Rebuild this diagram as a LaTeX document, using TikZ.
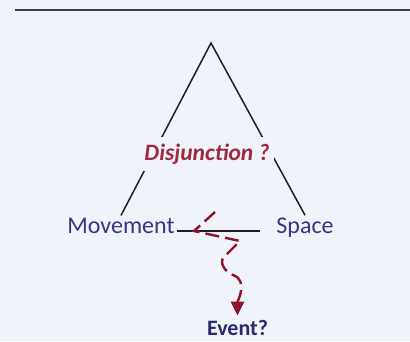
\documentclass[tikz,border=0pt]{standalone}
\usepackage{fontspec}
\setmainfont{Carlito}
\usepackage{tikz}
\usetikzlibrary{arrows.meta,positioning,calc}
\definecolor{pageBg}{RGB}{240,243,250}
\definecolor{termBlue}{RGB}{52,56,132}
\definecolor{eventBlue}{RGB}{38,44,108}
\definecolor{disjRed}{RGB}{158,42,66}
\definecolor{wavyRed}{RGB}{140,20,42}
\definecolor{legLine}{RGB}{30,30,34}
\tikzset{
  termnode/.style={inner sep=2pt, anchor=base, text=termBlue, font=\fontsize{24}{28}\selectfont},
  disjlabel/.style={inner xsep=4pt, inner ysep=7pt, anchor=base, fill=pageBg, text=disjRed,
    font=\fontsize{23.5}{27}\selectfont\bfseries\itshape},
  eventnode/.style={inner sep=2pt, anchor=base, text=eventBlue, font=\fontsize{22}{26}\selectfont\bfseries},
  legline/.style={draw=legLine, line width=1.5pt},
  ruleline/.style={draw=legLine!85, line width=1.6pt},
  wavyarrow/.style={draw=wavyRed, line width=2.4pt, dash pattern=on 14pt off 6pt,
    -{Triangle[length=14pt,width=13pt]}, shorten >=2pt},
}
\begin{document}
\begin{tikzpicture}[x=1pt, y=1pt]
  \fill[pageBg] (0,0) rectangle (410,341);
  \useasboundingbox (0,0) rectangle (410,341);

  \coordinate (ruleL) at (15,331);
  \coordinate (ruleR) at (410,331);
  \coordinate (apex) at (211,298);

  \node[termnode] (move) at (121,108) {Movement};
  \node[termnode] (space) at (305,108) {Space};
  \node[eventnode] (event) at (237.5,6) {Event?};

  \draw[ruleline] (ruleL) -- (ruleR);
  % triangle
  \draw[legline] (move.north) -- (apex) -- (space.north);
  \draw[legline, shorten >=14pt] ([yshift=2pt]move.base east) -- ([yshift=2pt]space.base west);
  \node[disjlabel] (disj) at (207,181) {Disjunction ?};

  % wavy arrow down to the event
  \coordinate (wstart) at (215,129);
  \draw[wavyarrow] (wstart) -- (194,110) -- (240,100)
    -- (224,84) to[out=-135,in=160] (233,66)
    to[out=-20,in=90] (event.north);
\end{tikzpicture}
\end{document}
